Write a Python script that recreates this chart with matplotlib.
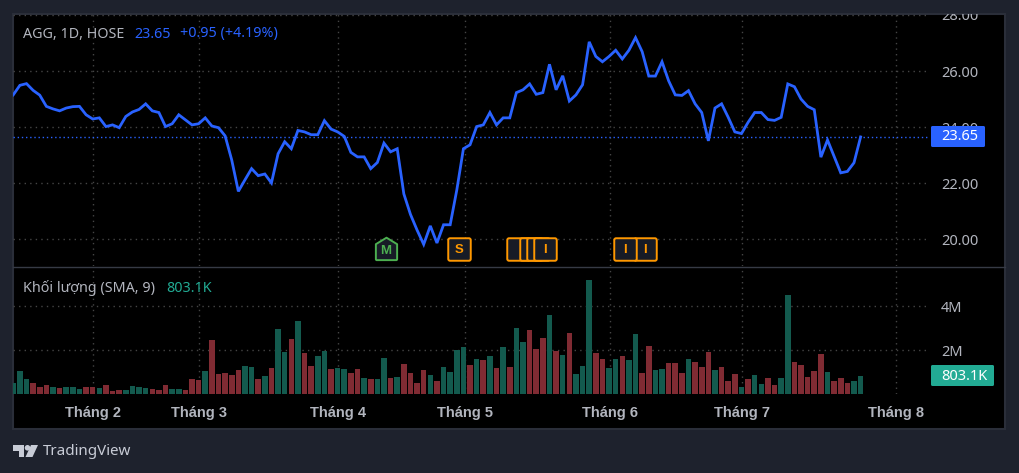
import matplotlib
matplotlib.use('Agg')
import matplotlib.pyplot as plt
from matplotlib.patches import Rectangle, FancyBboxPatch, Polygon, Circle
from matplotlib.path import Path
from matplotlib.lines import Line2D
from matplotlib.transforms import Affine2D, Bbox

plt.rcParams['font.family'] = ['Noto Sans', 'DejaVu Sans']

close = [25.15, 25.49, 25.55, 25.31, 25.14, 24.74, 24.65, 24.58, 24.68, 24.73,
         24.74, 24.44, 24.29, 24.33, 24.02, 24.08, 23.98, 24.38, 24.54, 24.63,
         24.83, 24.58, 24.52, 24.02, 24.12, 24.44, 24.26, 24.08, 24.12, 24.33,
         24.04, 23.98, 23.69, 22.83, 21.71, 22.12, 22.52, 22.27, 22.33, 22.01,
         23.05, 23.48, 23.23, 23.88, 23.83, 23.73, 23.73, 24.23, 23.93, 23.83,
         23.67, 23.10, 22.94, 22.94, 22.52, 22.74, 23.43, 23.12, 23.23, 21.62,
         20.89, 20.33, 19.82, 20.48, 19.87, 20.52, 20.52, 21.76, 23.23, 23.37,
         24.02, 24.08, 24.52, 24.08, 24.33, 24.33, 25.23, 25.33, 25.54, 25.17,
         25.23, 26.24, 25.33, 25.83, 24.93, 25.15, 25.51, 27.04, 26.52, 26.33,
         26.52, 26.74, 26.43, 26.74, 27.19, 26.69, 25.82, 25.82, 26.33, 25.65,
         25.15, 25.13, 25.30, 24.83, 24.52, 23.51, 24.68, 24.83, 24.35, 23.83,
         23.77, 24.17, 24.52, 24.52, 24.27, 24.24, 24.35, 25.54, 25.44, 25.00,
         24.74, 24.62, 22.93, 23.54, 22.95, 22.37, 22.42, 22.73, 23.65]

volume = [0.50, 1.05, 0.68, 0.50, 0.32, 0.41, 0.32, 0.27, 0.32, 0.32,
          0.23, 0.32, 0.32, 0.27, 0.41, 0.14, 0.18, 0.18, 0.36, 0.32,
          0.27, 0.23, 0.18, 0.41, 0.23, 0.23, 0.18, 0.68, 0.64, 1.05,
          2.45, 0.91, 0.95, 0.86, 1.09, 1.27, 1.23, 0.68, 0.82, 1.18,
          2.95, 1.91, 2.50, 3.32, 1.86, 1.27, 1.73, 1.95, 1.14, 1.18,
          1.14, 0.95, 1.14, 0.73, 0.68, 0.68, 1.64, 0.73, 0.77, 1.36,
          0.95, 0.50, 1.09, 0.86, 0.59, 1.23, 1.00, 2.00, 2.14, 1.32,
          1.59, 1.55, 1.73, 1.18, 2.14, 1.23, 3.00, 2.36, 2.91, 2.05,
          2.55, 3.59, 1.95, 1.77, 2.77, 0.91, 1.27, 5.18, 1.86, 1.59,
          1.18, 1.59, 1.73, 1.55, 2.73, 0.95, 2.18, 1.09, 1.14, 1.41,
          1.41, 0.95, 1.59, 1.45, 1.23, 1.91, 1.09, 1.23, 0.59, 0.91,
          0.32, 0.68, 0.86, 0.45, 0.73, 0.41, 0.73, 4.50, 1.45, 1.32,
          0.77, 1.05, 1.82, 1.00, 0.59, 0.73, 0.50, 0.59, 0.803]

# g = up day, r = down day, read bar by bar
vol_dir = ('gggrrrgrgg' 'grrgrrrggg' 'grrrggrrrg' 'rrrrrggrgr' 'ggrgrrggrg'
           'grrgrggrgr' 'rrrgrggggr' 'grgrgrggrr' 'rgrgrgggrr' 'ggrggrrggr'
           'rrgrrrgrrr' 'grggrrggrr' 'rrrgrrrgg')

months = [12.0, 28.06, 49.05, 68.19, 90.1, 110.13, 133.3]
month_labels = ['Tháng 2', 'Tháng 3', 'Tháng 4', 'Tháng 5', 'Tháng 6', 'Tháng 7', 'Tháng 8']
price_ticks = [20, 22, 24, 26, 28]
vol_ticks = [2, 4]
event_x = [76.27, 78.27, 79.27, 80.27, 95.37, 92.37]
event_txt = ['', '', '', 'I', 'I', 'I']
split_x = [67.27]
merger_x = [56.27]
last_price = 23.65
last_vol = 0.8031

W, H = 1019, 473
BG = '#1e222d'
BLUE = '#2962ff'
TEAL = '#22ab94'
ORANGE = '#ff9800'
GREEN = '#4caf50'
GREY = '#b2b5be'
GRID = '#454545'
dots = (0, (1, 3))
BOLD = 'Liberation Sans'


def px_axes(x0, y0, x1, y1):
    return fig.add_axes([x0 / W, 1 - y1 / H, (x1 - x0) / W, (y1 - y0) / H])


def rounded(w, h, r):
    return Path([(-w + r, -h), (w - r, -h), (w, -h), (w, -h + r), (w, h - r), (w, h), (w - r, h),
                 (-w + r, h), (-w, h), (-w, h - r), (-w, -h + r), (-w, -h), (-w + r, -h), (-w + r, -h)],
                [Path.MOVETO, Path.LINETO, Path.CURVE3, Path.CURVE3, Path.LINETO, Path.CURVE3, Path.CURVE3,
                 Path.LINETO, Path.CURVE3, Path.CURVE3, Path.LINETO, Path.CURVE3, Path.CURVE3, Path.CLOSEPOLY])


fig = plt.figure(figsize=(W / 100, H / 100), dpi=100, facecolor=BG)
px = Affine2D().scale(1, -1).translate(0, H)  # pixels, y going down

fig.add_artist(Rectangle((13, 13.5), 992, 415, transform=px, fc='black', ec='#2a2e39', lw=1.5, zorder=-2))
fig.add_artist(Line2D([13, 1005], [266.5, 266.5], transform=px, color='#363a45', lw=1, zorder=-1))

ax = px_axes(13, 13.5, 929, 266)
vax = px_axes(13, 266.5, 929, 394)
xlim = (-0.04, 138.33)
x = list(range(len(close)))

for a in (ax, vax):
    a.set_facecolor('none')
    a.set_xlim(*xlim)
    a.set_xticks(months)
    a.grid(True, color=GRID, lw=1, ls=dots)
    a.set_axisbelow(True)
    a.yaxis.tick_right()
    a.tick_params(length=0, colors=GREY, labelsize=10.5)
    for s in a.spines.values():
        s.set_visible(False)

ax.set_ylim(19.05, 28.05)
ax.set_yticks(price_ticks)
ax.set_yticklabels(['%.2f' % p for p in price_ticks])
ax.tick_params(axis='x', labelbottom=False)
ax.tick_params(axis='y', pad=8.5)
# the top label is cut off by the panel edge
panel = Bbox([[13, H - 266], [1005, H - 13.5]])
for lab in ax.get_yticklabels():
    lab.set_clip_box(panel)
    lab.set_clip_on(True)
ax.plot(x, close, color=BLUE, lw=2.0, solid_joinstyle='miter', zorder=4)
ax.axhline(last_price, color=BLUE, lw=1, ls=(0, (1, 2)), zorder=3)

# earnings / split / merger flags
box = rounded(1, 1, 0.16)
house = Path([(-0.85, -0.9), (0.85, -0.9), (0.9, -0.85), (0.9, 0.45), (0, 1), (-0.9, 0.45), (-0.9, -0.85), (-0.85, -0.9)], closed=True)
for ex, t in zip(event_x + split_x, event_txt + ['S']):
    ax.plot([ex], [19.64], marker=box, ms=16.2, mfc='#171b26', mec=ORANGE, mew=1.4, zorder=5, ls='none', clip_on=False)
    ax.text(ex, 19.62, t, color=ORANGE, fontsize=9.5, family=BOLD, fontweight='bold', ha='center', va='center', zorder=6)
ax.plot(merger_x, [19.64], marker=house, ms=17, mfc='#171b26', mec=GREEN, mew=1.4, zorder=5, ls='none')
ax.text(merger_x[0], 19.58, 'M', color=GREEN, fontsize=9.5, family=BOLD, fontweight='bold', ha='center', va='center', zorder=6)

vax.set_ylim(0, (394 - 266.5) / 22)
vax.set_yticks(vol_ticks)
vax.set_yticklabels(['%dM' % v for v in vol_ticks])
vax.set_xticklabels(month_labels, family=BOLD, fontweight='bold', fontsize=10.5)
vax.tick_params(axis='x', pad=8.5)
vax.tick_params(axis='y', pad=8.5)
bar_colors = ['#135a4e' if d == 'g' else '#802b33' for d in vol_dir]
vax.bar(x, volume, width=0.84, color=bar_colors, zorder=3)


# legend lines
def label(xp, yp, s, c, fs=10.3):
    fig.text(xp / W, 1 - yp / H, s, color=c, fontsize=fs, va='center', ha='left')


label(23, 34, 'AGG, 1D, HOSE', GREY)
label(134, 34, '23.65', BLUE)
label(180, 34, '+0.95 (+4.19%)', BLUE)
label(23, 288, 'Khối lượng (SMA, 9)', GREY)
label(166, 288, '803.1K', TEAL)

# last value tags
for y0, x1, c, s in [(126, 985, BLUE, '%.2f' % last_price), (365, 994, TEAL, '%.1fK' % (last_vol * 1000))]:
    fig.add_artist(FancyBboxPatch((931, y0), x1 - 931, 21, boxstyle='round,pad=0,rounding_size=1.5', transform=px, fc=c, ec='none', zorder=5))
    fig.text(941 / W, 1 - (y0 + 11) / H, s, color='white', fontsize=10.5, va='center', ha='left', zorder=6)

# footer logo
c = '#c8ccd6'
fig.add_artist(Polygon([(13, 445), (24, 445), (24, 457), (18.5, 457), (18.5, 450.5), (13, 450.5)], transform=px, fc=c, ec='none'))
fig.add_artist(Circle((27.5, 447.8), 2.8, transform=px, fc=c, ec='none'))
fig.add_artist(Polygon([(31, 445), (38, 445), (32.5, 457), (25.5, 457)], transform=px, fc=c, ec='none'))
label(43, 451.5, 'TradingView', c, 10.9)

fig.savefig('out.png', dpi=100, facecolor=BG)
